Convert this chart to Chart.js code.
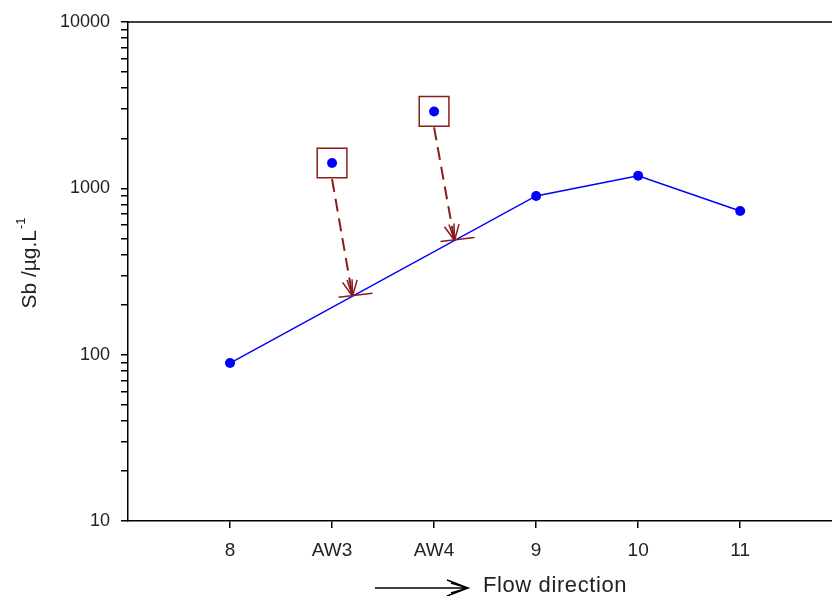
<!DOCTYPE html>
<html>
<head>
<meta charset="utf-8">
<script src="https://cdn.jsdelivr.net/npm/chart.js@4.4.1/dist/chart.umd.min.js"></script>
<style>
  html, body { margin: 0; background: #fff; }
</style>
</head>
<body>
<canvas id="myChart" width="832" height="596"></canvas>
<script>
const categories = ['8', 'AW3', 'AW4', '9', '10', '11']
const lineValues = [89, null, null, 900, 1190, 730]
const boxedValues = [null, 1420, 2900, null, null, null]
const yTickLabels = [10, 100, 1000, 10000]
const xStart = 8

const ctx = document.getElementById('myChart')
const lineData = []
const boxData = []
for (let i = 0; i <= categories.length-1; i++){
  if (lineValues[i] !== null) lineData.push({x: i + xStart, y: lineValues[i]})
  if (boxedValues[i] !== null) boxData.push({x: i + xStart, y: boxedValues[i]})
}

const arrowRed = '#8c1c1c'
const font = 'Arial, "Liberation Sans", sans-serif'

// where a boxed point should sit on the line (log interpolation)
function onLine(x){
  for (let i = 0; i < lineData.length-1; i++){
    const a = lineData[i], b = lineData[i+1]
    if (x >= a.x && x <= b.x){
      const f = (x - a.x) / (b.x - a.x)
      return Math.pow(10, Math.log10(a.y) + f * (Math.log10(b.y) - Math.log10(a.y)))
    }
  }
  return null
}

const extras = {
  id: 'extras',
  afterDraw(chart){
    const c = chart.ctx
    const xs = chart.scales.x, ys = chart.scales.y
    const area = chart.chartArea
    c.save()
    // top frame line
    c.strokeStyle = '#000'
    c.lineWidth = 1.5
    c.beginPath()
    c.moveTo(area.left, area.top)
    c.lineTo(area.right, area.top)
    c.stroke()

    // dashed arrows from the boxes down to the line
    boxData.forEach(p => {
      const sx = xs.getPixelForValue(p.x)
      const sy = ys.getPixelForValue(p.y) + 16
      const tx = xs.getPixelForValue(p.x + 0.2)
      const ty = ys.getPixelForValue(onLine(p.x + 0.2))
      c.strokeStyle = arrowRed
      c.lineWidth = 2
      c.setLineDash([13, 7])
      c.beginPath()
      c.moveTo(sx, sy)
      c.lineTo(tx, ty)
      c.stroke()
      c.setLineDash([])
      const ang = Math.atan2(ty - sy, tx - sx)
      c.lineWidth = 1.5
      c.beginPath()
      for (const d of [-0.45, -0.15, 0.15, 0.45]){
        c.moveTo(tx, ty)
        c.lineTo(tx - 17 * Math.cos(ang + d), ty - 17 * Math.sin(ang + d))
      }
      c.moveTo(tx - 14, ty + 1)
      c.lineTo(tx + 20, ty - 3)
      c.stroke()
    })

    // y title with superscript
    c.fillStyle = '#222'
    c.translate(30, 263)
    c.rotate(-Math.PI / 2)
    c.textBaseline = 'middle'
    const main = 'Sb /µg.L'
    c.font = '13px ' + font
    const supW = c.measureText('-1').width
    c.font = '21px ' + font
    const mainW = c.measureText(main).width
    const x0 = -(mainW + supW + 1) / 2
    c.textAlign = 'left'
    c.fillText(main, x0, 0)
    c.font = '13px ' + font
    c.fillText('-1', x0 + mainW + 1, -9)
    c.restore()

    // flow direction arrow and text
    c.save()
    c.strokeStyle = '#000'
    c.fillStyle = '#222'
    c.lineWidth = 1.5
    c.beginPath()
    c.moveTo(375, 588)
    c.lineTo(468, 588)
    c.moveTo(447, 580); c.lineTo(468, 588); c.lineTo(447, 596)
    c.moveTo(451, 583); c.lineTo(468, 588); c.lineTo(451, 593)
    c.stroke()
    c.font = '22px ' + font
    c.letterSpacing = '0.6px'
    c.textBaseline = 'middle'
    c.fillText('Flow direction', 483, 586)
    c.restore()
  }
}

new Chart(ctx, {
  type: 'scatter',
  data: {
    datasets: [{
      label: 'Sb',
      data: lineData,
      showLine: true,
      borderColor: '#0000ff',
      backgroundColor: '#0000ff',
      borderWidth: 1.5,
      pointRadius: 5,
      pointBorderWidth: 0,
      pointHoverRadius: 5
    }, {
      label: 'boxed',
      data: boxData,
      borderColor: '#0000ff',
      backgroundColor: '#0000ff',
      pointRadius: 5,
      pointBorderWidth: 0
    }, {
      label: 'boxes',
      data: boxData,
      pointStyle: 'rect',
      pointRadius: 21,
      borderColor: arrowRed,
      backgroundColor: 'rgba(0,0,0,0)',
      pointBorderWidth: 1.5
    }]
  },
  options: {
    responsive: false,
    animation: false,
    events: [],
    layout: { autoPadding: false, padding: { left: 0, top: 22, right: 0, bottom: 0 } },
    plugins: { legend: { display: false }, tooltip: { enabled: false } },
    scales: {
      x: {
        type: 'linear',
        min: 7,
        max: 13.9,
        afterBuildTicks: s => { s.ticks = categories.map((c, i) => ({value: i + xStart})) },
        afterFit: s => { s.height = 75; s.paddingLeft = 0; s.paddingRight = 0 },
        ticks: {
          autoSkip: false,
          maxRotation: 0,
          padding: 11,
          color: '#222',
          font: { size: 19, family: font },
          callback: v => categories[v - xStart]
        },
        grid: { drawOnChartArea: false, drawTicks: true, tickLength: 7, color: '#000', lineWidth: 1.5 },
        border: { display: true, color: '#000', width: 1.5 }
      },
      y: {
        type: 'logarithmic',
        min: 10,
        max: 10000,
        afterBuildTicks: s => {
          const t = []
          for (let e = 1; e < 4; e++) for (let m = 1; m < 10; m++) t.push({value: m * Math.pow(10, e)})
          t.push({value: 10000})
          s.ticks = t
        },
        afterFit: s => { s.width = 128 },
        ticks: {
          autoSkip: false,
          padding: 11,
          color: '#222',
          font: { size: 18, family: font },
          callback: v => yTickLabels.includes(v) ? String(v) : ''
        },
        grid: { drawOnChartArea: false, drawTicks: true, tickLength: 7, color: '#000', lineWidth: 1.5 },
        border: { display: true, color: '#000', width: 1.5 }
      }
    }
  },
  plugins: [extras]
});
</script>
</body>
</html>
